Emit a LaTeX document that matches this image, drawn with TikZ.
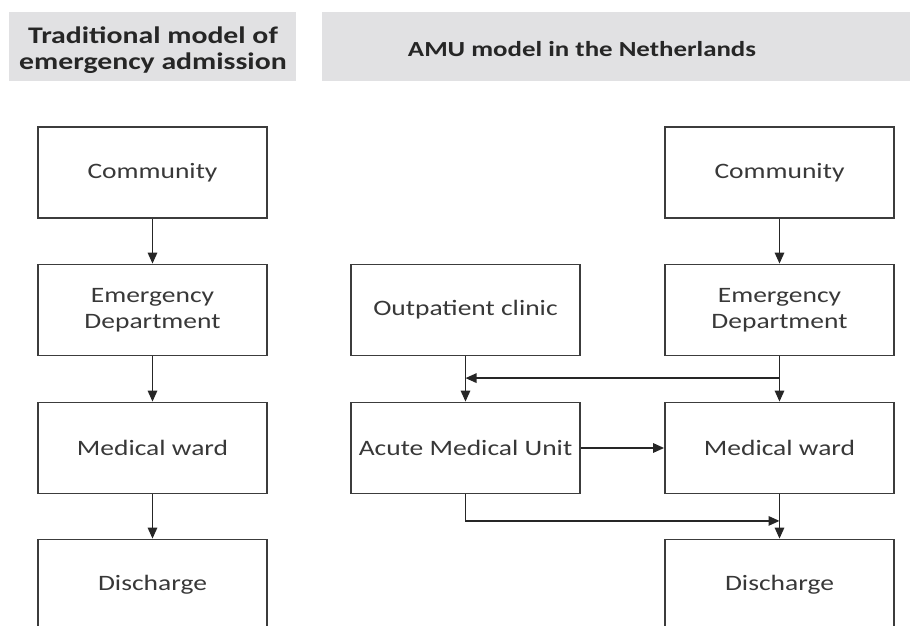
\documentclass[tikz,border=0pt]{standalone}
\usepackage{fontspec}
\usepackage{graphicx}
\setmainfont{Carlito}
\usetikzlibrary{arrows.meta}
\definecolor{hdrfill}{HTML}{E1E1E3}
\definecolor{boxline}{HTML}{3C3C3C}
\definecolor{boxtext}{HTML}{383838}
\definecolor{hdrtext}{HTML}{262626}
\newcommand{\widetxt}[1]{\scalebox{1.25}[1]{#1}}
\tikzset{
  stepbox/.style={draw=boxline, line width=1.8pt, minimum width=229pt, minimum height=91pt,
    inner sep=0pt, text=boxtext, font=\fontsize{22}{26}\selectfont, align=center},
  hdrbox/.style={fill=hdrfill, draw=none, inner sep=0pt},
  hdrlabel/.style={text=hdrtext, font=\bfseries\fontsize{21.5}{26}\selectfont, align=center, inner sep=0pt},
  arr/.style={draw=black!85, line width=1.5pt, -{Triangle[length=11pt,width=9.5pt]}}
}
\begin{document}
\begin{tikzpicture}[x=1pt,y=-1pt]
\useasboundingbox (0,0) rectangle (910,626);
\clip (0,0) rectangle (910,626);
% headers
\node[hdrbox, minimum width=287pt, minimum height=69pt] (h1) at (152.5,46.5) {};
\node[hdrlabel, font=\bfseries\fontsize{23.8}{26}\selectfont] (t1) at (153,50) {\widetxt{Traditional model of}\\\widetxt{emergency admission}};
\node[hdrbox, minimum width=588pt, minimum height=69pt] (h2) at (616,46.5) {};
\node[hdrlabel] (t2) at (582,49) {\widetxt{AMU model in the Netherlands}};
% left column
\node[stepbox] (comL) at (152.5,172.5) {\widetxt{Community}};
\node[stepbox] (edL) at (152.5,310) {\widetxt{Emergency}\\\widetxt{Department}};
\node[stepbox] (mwL) at (152.5,448) {\widetxt{Medical ward}};
\node[stepbox] (disL) at (152.5,585) {\widetxt{Discharge}};
% middle column
\node[stepbox] (op) at (465.5,310) {\widetxt{Outpatient clinic}};
\node[stepbox] (amu) at (465.5,448) {\widetxt{Acute Medical Unit}};
% right column
\node[stepbox] (comR) at (779.5,172.5) {\widetxt{Community}};
\node[stepbox] (edR) at (779.5,310) {\widetxt{Emergency}\\\widetxt{Department}};
\node[stepbox] (mwR) at (779.5,448) {\widetxt{Medical ward}};
\node[stepbox] (disR) at (779.5,585) {\widetxt{Discharge}};
% arrows left
\draw[arr] (comL) -- (edL);
\draw[arr] (edL) -- (mwL);
\draw[arr] (mwL) -- (disL);
% arrows right
\draw[arr] (comR) -- (edR);
\draw[arr] (edR) -- (mwR);
\draw[arr] (mwR) -- (disR);
\draw[arr] (op) -- (amu);
\path (edR.south) -- (mwR.north) coordinate[pos=0.48] (b1);
\path (op.south) -- (amu.north) coordinate[pos=0.48] (b2);
\path (mwR.south) -- (disR.north) coordinate[pos=0.6] (b3);
\draw[arr] (b1) -- (b2);
\draw[arr] (amu) -- (mwR);
\draw[arr] (amu.south) |- (b3);
\end{tikzpicture}
\end{document}
